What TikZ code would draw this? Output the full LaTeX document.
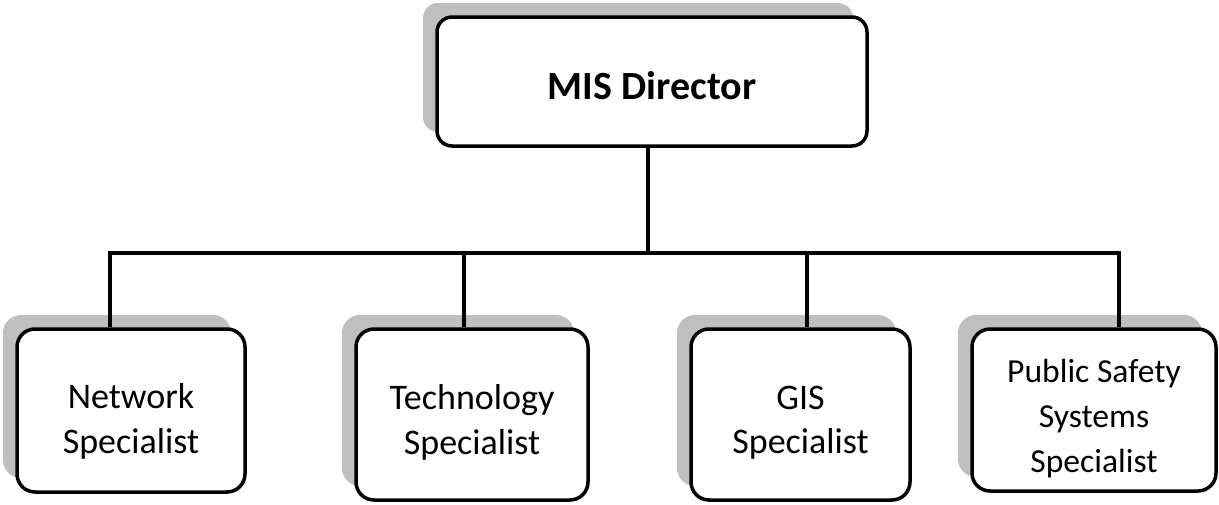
\documentclass[tikz,border=0pt]{standalone}
\usepackage{fontspec}
\setmainfont{Carlito}
\usetikzlibrary{shadows}
\definecolor{shadowgray}{RGB}{191,191,191}
\tikzset{
  box/.style={draw=black, line width=3.5pt, fill=white, rounded corners=#1,
    inner sep=0pt,
    drop shadow={shadow xshift=-14pt, shadow yshift=14pt, fill=shadowgray, opacity=1}},
  box/.default=18pt,
  conn/.style={draw=black, line width=3.5pt},
  label text/.style={align=center, inner sep=0pt},
  topfont/.style={font=\fontsize{40}{48}\selectfont\bfseries},
  subfont/.style={font=\fontsize{36}{44.5}\selectfont},
  smallfont/.style={font=\fontsize{33.6}{45}\selectfont}
}
\begin{document}
\begin{tikzpicture}[x=1pt,y=-1pt]
\useasboundingbox[fill=white] (0,0) rectangle (1219,504);
% boxes
\node[box=15pt, minimum width=430pt, minimum height=129pt] (dir) at (652,81.5) {};
\node[box, minimum width=228pt, minimum height=163pt] (net) at (131,410.5) {};
\node[box, minimum width=232pt, minimum height=171pt] (tech) at (472,414.5) {};
\node[box, minimum width=219pt, minimum height=171pt] (gis) at (800.5,414.5) {};
\node[box, minimum width=244pt, minimum height=162pt] (pub) at (1094,410) {};
% texts
\node[label text, topfont] (dirT) at ([yshift=-4pt]dir.center) {MIS Director};
\node[label text, subfont] (netT) at ([yshift=-11pt]net.center) {Network\\Specialist};
\node[label text, subfont] (techT) at ([yshift=-8pt]tech.center) {Technology\\Specialist};
\node[label text, subfont] (gisT) at ([yshift=-8pt]gis.center) {GIS\\Specialist};
\node[label text, smallfont] (pubT) at ([yshift=-9pt]pub.center) {Public Safety\\Systems\\Specialist};
% bus coordinates
\coordinate (bl) at (110,253);
\coordinate (bt) at (464,253);
\coordinate (bg) at (807,253);
\coordinate (br) at (1119,253);
% connectors
\draw[conn] ([xshift=-4pt]dir.south) -- ([xshift=-4pt]dir.south |- bl);
\draw[conn] (bl |- net.north) -- (bl) -- (br) -- (br |- pub.north);
\draw[conn] (bt) -- (bt |- tech.north);
\draw[conn] (bg) -- (bg |- gis.north);
\end{tikzpicture}
\end{document}
